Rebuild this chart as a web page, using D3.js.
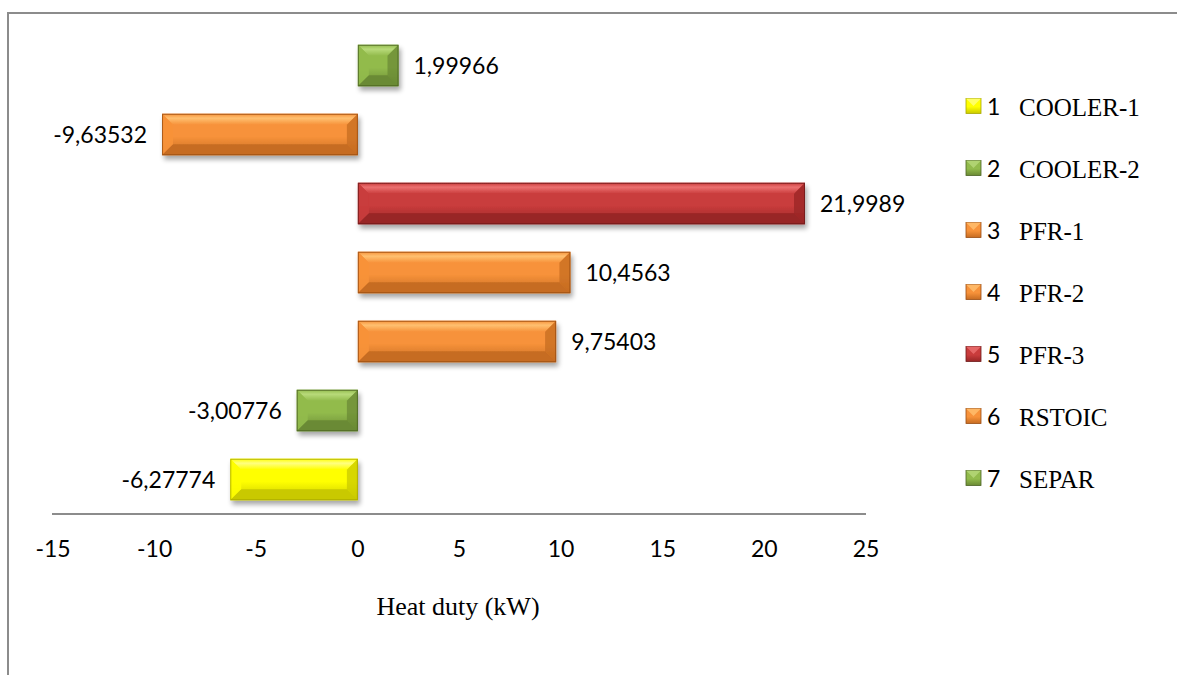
<!DOCTYPE html>
<html>
<head>
<meta charset="utf-8">
<script src="https://cdn.jsdelivr.net/npm/d3@7"></script>
<style>
  html, body { margin: 0; padding: 0; background: #fff; }
  svg { display: block; }
</style>
</head>
<body>
<svg id="chart" width="1177" height="675"></svg>
<script>
// Heat duty per unit block (kW)
const categories = ["1", "2", "3", "4", "5", "6", "7"];
const blockNames = ["COOLER-1", "COOLER-2", "PFR-1", "PFR-2", "PFR-3", "RSTOIC", "SEPAR"];
const heatDuty = [-6.27774, -3.00776, 9.75403, 10.4563, 21.9989, -9.63532, 1.99966];
const valueLabels = ["-6,27774", "-3,00776", "9,75403", "10,4563", "21,9989", "-9,63532", "1,99966"];
const xTicks = [-15, -10, -5, 0, 5, 10, 15, 20, 25];
const axisTitle = "Heat duty (kW)";

// Fill / edge palette per block type
const palette = {
  yellow: { base: "#ffff00", light: "#ffff80", dark: "#c9c900", edge: "#a8a800" },
  green:  { base: "#92bb4c", light: "#b8da7a", dark: "#6a8a34", edge: "#4b6323" },
  orange: { base: "#f7923a", light: "#ffc070", dark: "#c66c22", edge: "#9a4d12" },
  red:    { base: "#c93c3c", light: "#ec7070", dark: "#982626", edge: "#6e1a1a" }
};
const barColor = ["yellow", "green", "orange", "orange", "red", "orange", "green"];

const sansFont = "Lato, 'Open Sans', sans-serif";
const serifFont = "'Liberation Serif', 'Times New Roman', serif";

const svg = d3.select("#chart");

// Outer frame
svg.append("path")
  .attr("d", "M8,676 L8,13 L1178,13")
  .attr("fill", "none")
  .attr("stroke", "#8c8c8c")
  .attr("stroke-width", 2);

const x = d3.scaleLinear().domain([-15, 25]).range([53, 866]);
const y = d3.scaleBand().domain(categories.slice().reverse()).range([31, 514]).paddingInner(0.4).paddingOuter(0.2);

const defs = svg.append("defs");
const shadow = defs.append("filter").attr("id", "shadow")
  .attr("x", "-10%").attr("y", "-20%").attr("width", "130%").attr("height", "160%");
shadow.append("feGaussianBlur").attr("in", "SourceAlpha").attr("stdDeviation", 2.5).attr("result", "b");
shadow.append("feOffset").attr("in", "b").attr("dx", 2).attr("dy", 4).attr("result", "o");
shadow.append("feComponentTransfer").attr("in", "o").attr("result", "s")
  .append("feFuncA").attr("type", "linear").attr("slope", 0.35);
const merge = shadow.append("feMerge");
merge.append("feMergeNode").attr("in", "s");
merge.append("feMergeNode").attr("in", "SourceGraphic");

// Vertical gradients for the bevelled faces
Object.entries(palette).forEach(([k, c]) => {
  const g = defs.append("linearGradient").attr("id", "face-" + k)
    .attr("x1", 0).attr("y1", 0).attr("x2", 0).attr("y2", 1);
  g.append("stop").attr("offset", "0%").attr("stop-color", c.base);
  g.append("stop").attr("offset", "55%").attr("stop-color", c.base);
  g.append("stop").attr("offset", "100%").attr("stop-color", c.dark);
  const t = defs.append("linearGradient").attr("id", "top-" + k)
    .attr("x1", 0).attr("y1", 0).attr("x2", 0).attr("y2", 1);
  t.append("stop").attr("offset", "0%").attr("stop-color", c.base);
  t.append("stop").attr("offset", "40%").attr("stop-color", c.light);
  t.append("stop").attr("offset", "100%").attr("stop-color", c.base);
});

// Axis line and tick labels
svg.append("line")
  .attr("x1", x(-15) - 1).attr("x2", x(25))
  .attr("y1", 514).attr("y2", 514)
  .attr("stroke", "#8c8c8c").attr("stroke-width", 2);

svg.append("g").selectAll("text").data(xTicks).join("text")
  .attr("x", d => x(d))
  .attr("y", 557)
  .attr("text-anchor", "middle")
  .attr("font-family", sansFont)
  .attr("font-size", 23)
  .attr("fill", "#000")
  .text(d => d);

svg.append("text")
  .attr("x", 458).attr("y", 615)
  .attr("text-anchor", "middle")
  .attr("font-family", serifFont)
  .attr("font-size", 26)
  .attr("fill", "#000")
  .text(axisTitle);

// Bars
const data = categories.map((c, i) => ({ cat: c, v: heatDuty[i], label: valueLabels[i], col: barColor[i] }));
const bars = svg.append("g").selectAll("g").data(data).join("g").attr("filter", "url(#shadow)");

bars.each(function(d) {
  const g = d3.select(this);
  const x0 = Math.min(x(0), x(d.v)), x1 = Math.max(x(0), x(d.v));
  const y0 = y(d.cat), h = y.bandwidth(), y1 = y0 + h;
  const c = palette[d.col];
  const b = Math.min(11, (x1 - x0) / 2, h / 3);
  g.append("rect").attr("x", x0).attr("y", y0).attr("width", x1 - x0).attr("height", h)
    .attr("fill", "url(#face-" + d.col + ")");
  // top bevel
  g.append("polygon").attr("points", [[x0, y0], [x1, y0], [x1 - b, y0 + b], [x0 + b, y0 + b]].join(" "))
    .attr("fill", "url(#top-" + d.col + ")");
  // left bevel
  g.append("polygon").attr("points", [[x0, y0], [x0 + b, y0 + b], [x0 + b, y1 - b], [x0, y1]].join(" "))
    .attr("fill", c.base).attr("opacity", 0.9);
  // right bevel
  g.append("polygon").attr("points", [[x1, y0], [x1, y1], [x1 - b, y1 - b], [x1 - b, y0 + b]].join(" "))
    .attr("fill", c.dark).attr("opacity", 0.75);
  // bottom bevel
  g.append("polygon").attr("points", [[x0, y1], [x0 + b, y1 - b], [x1 - b, y1 - b], [x1, y1]].join(" "))
    .attr("fill", c.dark);
  g.append("rect").attr("x", x0 + 0.5).attr("y", y0 + 0.5).attr("width", x1 - x0 - 1).attr("height", h - 1)
    .attr("fill", "none").attr("stroke", c.edge).attr("stroke-width", 1).attr("opacity", 0.8);
});

// Value labels
svg.append("g").selectAll("text").data(data).join("text")
  .attr("x", d => d.v >= 0 ? x(d.v) + 15 : x(d.v) - 15)
  .attr("y", d => y(d.cat) + y.bandwidth() / 2 + 8)
  .attr("text-anchor", d => d.v >= 0 ? "start" : "end")
  .attr("font-family", sansFont)
  .attr("font-size", 23)
  .attr("fill", "#000")
  .text(d => d.label);

// Legend
const legend = svg.append("g").selectAll("g").data(data).join("g")
  .attr("transform", (d, i) => `translate(966, ${106 + i * 62})`);
legend.each(function(d) {
  const g = d3.select(this);
  const c = palette[d.col];
  const s = 15;
  g.append("rect").attr("x", 0).attr("y", -s / 2).attr("width", s).attr("height", s)
    .attr("fill", "url(#face-" + d.col + ")").attr("stroke", c.edge).attr("stroke-width", 0.8);
  g.append("polygon").attr("points", [[0, -s / 2], [s, -s / 2], [s / 2, 0]].join(" "))
    .attr("fill", c.light).attr("opacity", 0.8);
  g.append("text").attr("x", 21).attr("y", 9)
    .attr("font-family", sansFont).attr("font-size", 23).attr("fill", "#000")
    .text(d.cat);
  g.append("text").attr("x", 53).attr("y", 10)
    .attr("font-family", serifFont).attr("font-size", 25).attr("fill", "#000")
    .text(blockNames[+d.cat - 1]);
});
</script>
</body>
</html>
